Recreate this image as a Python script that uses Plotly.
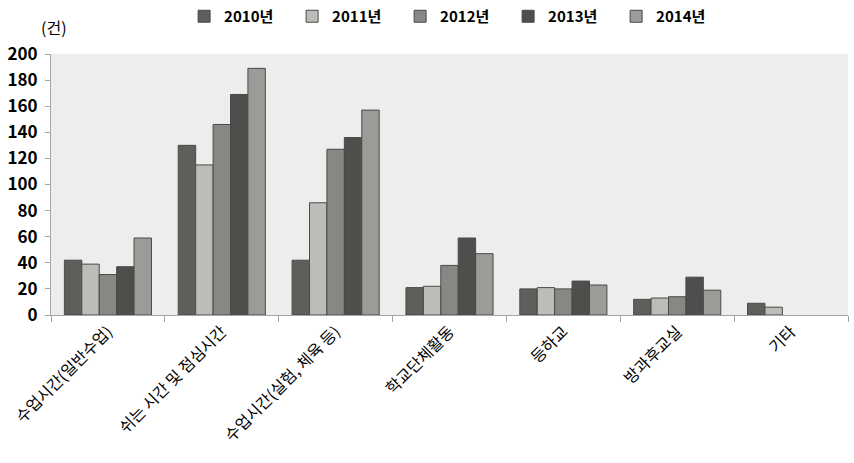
import plotly.graph_objects as go

categories = ["수업시간(일반수업)", "쉬는 시간 및 점심시간", "수업시간(실험, 체육 등)",
              "학교단체활동", "등하교", "방과후교실", "기타"]
years = ["2010년", "2011년", "2012년", "2013년", "2014년"]
v2010 = [42, 130, 42, 21, 20, 12, 9]
v2011 = [39, 115, 86, 22, 21, 13, 6]
v2012 = [31, 146, 127, 38, 20, 14, 0]
v2013 = [37, 169, 136, 59, 26, 29, 0]
v2014 = [59, 189, 157, 47, 23, 19, 0]
series = [v2010, v2011, v2012, v2013, v2014]
colors = ["#5f5e5a", "#bdbcb8", "#888784", "#4f4e4c", "#9c9b97"]

FONT = "Noto Sans CJK KR"

fig = go.Figure()
for name, vals, c in zip(years, series, colors):
    fig.add_trace(go.Bar(
        name=name, x=categories, y=vals,
        marker=dict(color=c, line=dict(color="#4a4a48",
                                       width=[1 if v > 0 else 0 for v in vals])),
    ))

fig.update_layout(
    width=854, height=463,
    margin=dict(l=51, r=6, t=54, b=148),
    paper_bgcolor="white", plot_bgcolor="#ededed",
    barmode="group", bargap=0.235, bargroupgap=0,
    font=dict(family=FONT, color="black"),
    showlegend=True,
    legend=dict(
        orientation="h", x=0.167, xanchor="left", y=1.0, yanchor="top",
        yref="container",
        font=dict(family=FONT, size=15, color="black", weight="bold"),
        entrywidth=63, entrywidthmode="pixels",
        traceorder="normal", itemwidth=30,
    ),
    xaxis=dict(
        showline=True, linecolor="#a6a6a6", linewidth=1,
        ticks="outside", tickson="boundaries", ticklen=6, tickcolor="#a6a6a6",
        tickangle=-45, tickfont=dict(family=FONT, size=16, color="black"),
        showgrid=False,
    ),
    yaxis=dict(
        range=[0, 200], dtick=20, showline=True, linecolor="#a6a6a6", linewidth=1,
        ticks="outside", ticklen=5, tickcolor="#a6a6a6", ticklabelstandoff=4,
        tickfont=dict(family=FONT, size=17, color="black", weight="bold"),
        showgrid=False, zeroline=False,
    ),
)

fig.add_annotation(
    text="(건)", xref="paper", yref="paper", x=0.004, y=1.05,
    xanchor="center", yanchor="bottom", showarrow=False,
    font=dict(family=FONT, size=16, color="black"),
)

fig.write_html("out.html")
